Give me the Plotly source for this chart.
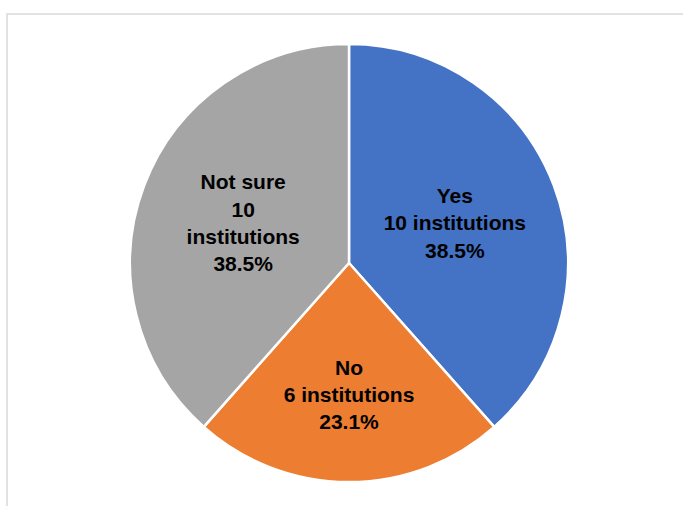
import plotly.graph_objects as go

labels = ["Yes", "No", "Not sure"]
counts = [10, 6, 10]
label_text = ["<b>Yes<br>10 institutions<br>38.5%</b>", "<b>No<br>6 institutions<br>23.1%</b>", "<b>Not sure<br>10<br>institutions<br>38.5%</b>"]
colors = ["#4472C4", "#ED7D31", "#A5A5A5"]

W, H = 683, 506
fig = go.Figure(go.Pie(
    labels=labels, values=counts, text=label_text,
    sort=False, direction="clockwise", rotation=0,
    marker=dict(colors=colors, line=dict(color="white", width=2.5)),
    textinfo="text", textposition="inside", insidetextorientation="horizontal",
    textfont=dict(family="Liberation Sans, Arial, sans-serif", size=21, color="black"),
    hoverinfo="label+value+percent",
    domain=dict(x=[130 / W, 568 / W], y=[1 - 482 / H, 1 - 44 / H]),
    showlegend=False,
))
fig.update_layout(
    width=W, height=H, margin=dict(l=0, r=0, t=0, b=0),
    paper_bgcolor="white", plot_bgcolor="white",
    uniformtext=dict(minsize=21, mode="show"),
    shapes=[dict(type="rect", xref="paper", yref="paper", x0=7 / W, x1=1.05, y0=-0.05, y1=1 - 14 / H,
                 line=dict(color="#D9D9D9", width=1.5), layer="below")],
)
fig.write_html("out.html", config={"displayModeBar": False},
               post_script="document.body.style.margin='0';document.body.style.overflow='hidden';")
